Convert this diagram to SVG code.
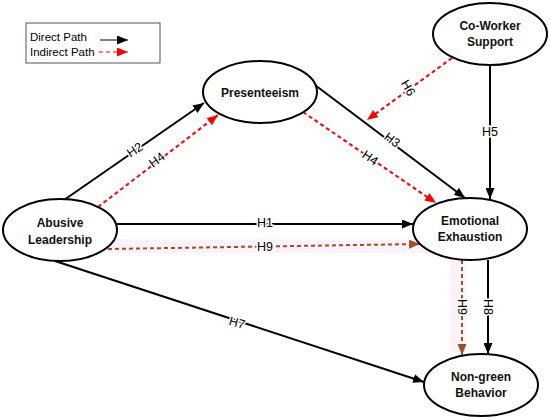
<svg xmlns="http://www.w3.org/2000/svg" width="550" height="420" viewBox="0 0 550 420">
<style>
.node ellipse{fill:#fff;stroke:#000;stroke-width:2}
.node text{font-family:"Liberation Sans",Arial,sans-serif;font-weight:bold;font-size:12px;text-anchor:middle;fill:#111}
.d{stroke:#000;stroke-width:2;fill:none;marker-end:url(#ab)}
.i{stroke:#f00;stroke-width:2;fill:none;stroke-dasharray:4,3;marker-end:url(#ar)}
.b{stroke:#9a5220;stroke-width:2;fill:none;stroke-dasharray:4,3;marker-end:url(#abr)}
.lbl{font-family:"Liberation Sans",Arial,sans-serif;font-size:12.5px;text-anchor:middle;dominant-baseline:central;fill:#000;stroke:#fff;stroke-width:3;paint-order:stroke}
.leg{font-family:"Liberation Sans",Arial,sans-serif;font-size:11.5px;fill:#000}
</style>
<defs>
<marker id="ab" markerUnits="userSpaceOnUse" markerWidth="11" markerHeight="9" refX="11" refY="4.5" orient="auto"><path d="M0,0 L11,4.5 L0,9 z" fill="#000"/></marker>
<marker id="ar" markerUnits="userSpaceOnUse" markerWidth="11" markerHeight="9" refX="11" refY="4.5" orient="auto"><path d="M0,0 L11,4.5 L0,9 z" fill="#f00"/></marker>
<marker id="abr" markerUnits="userSpaceOnUse" markerWidth="11" markerHeight="9" refX="11" refY="4.5" orient="auto"><path d="M0,0 L11,4.5 L0,9 z" fill="#9a5220"/></marker>
</defs>
<rect width="550" height="420" fill="#fff"/>
<g id="highlight" fill="#fdf1fa">
<rect x="108" y="239" width="324" height="14"/>
<rect x="450" y="252" width="16" height="100"/>
</g>
<g id="legend">
<rect x="26" y="23" width="134" height="40" fill="#fff" stroke="#555" stroke-width="1"/>
<text class="leg" x="30" y="41">Direct Path</text>
<text class="leg" x="30" y="56">Indirect Path</text>
<line x1="100" y1="40" x2="128" y2="40" stroke="#000" stroke-width="1" marker-end="url(#ab)"/>
<line x1="99" y1="52" x2="128" y2="52" stroke="#f00" stroke-width="1" stroke-dasharray="4,3" marker-end="url(#ar)"/>
</g>
<g id="connectors">
<line class="d" x1="64" y1="200" x2="204" y2="103"/>
<line class="i" x1="98" y1="207" x2="218" y2="115"/>
<line class="i" x1="303" y1="112" x2="436" y2="203"/>
<line class="d" x1="315" y1="85" x2="465" y2="198"/>
<line class="d" x1="490" y1="65" x2="490" y2="199"/>
<line class="i" x1="452" y1="58" x2="367" y2="120"/>
<line class="d" x1="117" y1="224" x2="413" y2="224"/>
<line class="b" x1="108" y1="249" x2="420" y2="244"/>
<line class="b" x1="462" y1="260" x2="462" y2="355"/>
<line class="d" x1="488" y1="260" x2="488" y2="354"/>
<line class="d" x1="55" y1="261" x2="424" y2="382"/>
<text class="lbl" transform="translate(135,150) rotate(-34)">H2</text>
<text class="lbl" transform="translate(157,160) rotate(-37)">H4</text>
<text class="lbl" transform="translate(392,140) rotate(37)">H3</text>
<text class="lbl" transform="translate(370,158) rotate(34)">H4</text>
<text class="lbl" x="490" y="132">H5</text>
<text class="lbl" transform="translate(408,88) rotate(60)">H6</text>
<text class="lbl" x="265" y="223">H1</text>
<text class="lbl" x="265" y="247">H9</text>
<text class="lbl" transform="translate(462,307) rotate(90)">H9</text>
<text class="lbl" transform="translate(488,307) rotate(90)">H8</text>
<text class="lbl" transform="translate(237,323) rotate(15)">H7</text>
</g>
<g id="presenteeism" class="node"><ellipse cx="260" cy="92" rx="57" ry="31"/><text x="260" y="97">Presenteeism</text></g>
<g id="coworker" class="node"><ellipse cx="490" cy="34" rx="57" ry="31"/><text x="490" y="30">Co-Worker</text><text x="490" y="46">Support</text></g>
<g id="abusive" class="node"><ellipse cx="60" cy="230" rx="57" ry="31"/><text x="60" y="227">Abusive</text><text x="60" y="244">Leadership</text></g>
<g id="exhaustion" class="node"><ellipse cx="470" cy="229" rx="57" ry="31"/><text x="470" y="225">Emotional</text><text x="470" y="241">Exhaustion</text></g>
<g id="nongreen" class="node"><ellipse cx="481" cy="385" rx="57" ry="31"/><text x="481" y="381">Non-green</text><text x="481" y="397">Behavior</text></g>
</svg>
